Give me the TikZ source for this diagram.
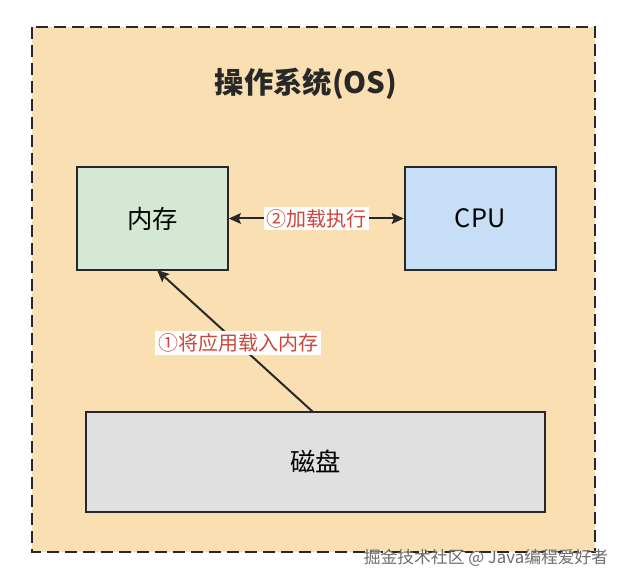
\documentclass[tikz,border=0pt]{standalone}
\usepackage{fontspec}
\setmainfont{Noto Sans CJK SC}
\usetikzlibrary{arrows.meta,positioning}
\definecolor{osfill}{RGB}{250,223,178}
\definecolor{memfill}{RGB}{213,232,212}
\definecolor{cpufill}{RGB}{198,223,246}
\definecolor{diskfill}{RGB}{224,224,224}
\definecolor{edgegray}{RGB}{40,40,40}
\definecolor{labelred}{RGB}{205,70,60}
\definecolor{markgray}{RGB}{110,110,110}
\tikzset{
  box/.style={rectangle, draw=edgegray, line width=1.5pt, align=center,
              minimum width=113pt, minimum height=77pt, font=\fontsize{19}{22}\selectfont},
  memnode/.style={box, fill=memfill},
  cpunode/.style={box, fill=cpufill},
  disknode/.style={box, fill=diskfill, minimum width=344pt, minimum height=75pt},
  arrow/.style={-{Stealth[length=9pt,width=8pt,inset=1.5pt]}, line width=1.5pt, edgegray},
  dblarrow/.style={{Stealth[length=9pt,width=8pt,inset=1.5pt]}-{Stealth[length=9pt,width=8pt,inset=1.5pt]}, line width=1.5pt, edgegray},
  steplabel/.style={fill=white, inner sep=2pt, text=labelred, font=\fontsize{15}{18}\selectfont},
}
\begin{document}
\begin{tikzpicture}[x=0.75pt,y=-0.75pt]
\useasboundingbox (0,0) rectangle (624,584);
% outer frame
\draw[edgegray, fill=osfill, line width=1.5pt, dash pattern=on 9pt off 4.5pt] (32,27) rectangle (595,552);
\node[font=\bfseries\fontsize{22}{26}\selectfont, text=edgegray] (title) at (306,84) {操作系统(OS)};

% boxes
\node[memnode] (mem) at (152.5,218.5) {内存};
\node[cpunode, right=131.25pt of mem] (cpu) {CPU};
\node[disknode] (disk) at (315.5,462) {磁盘};

% connectors
\draw[dblarrow] (mem) -- node[steplabel] {②加载执行} (cpu);
\coordinate (diskin) at (313,412);
\coordinate (memin) at (157,270);
\draw[arrow] (diskin) -- (memin);
\node[steplabel] (loadlabel) at (238,343) {①将应用载入内存};

% watermark
\node[text=white, font=\fontsize{12.6}{15}\selectfont] at (487.5,559.5) {掘金技术社区 @ Java编程爱好者};
\node[text=markgray, font=\fontsize{12.6}{15}\selectfont] (mark) at (486,558) {掘金技术社区 @ Java编程爱好者};
\end{tikzpicture}
\end{document}
